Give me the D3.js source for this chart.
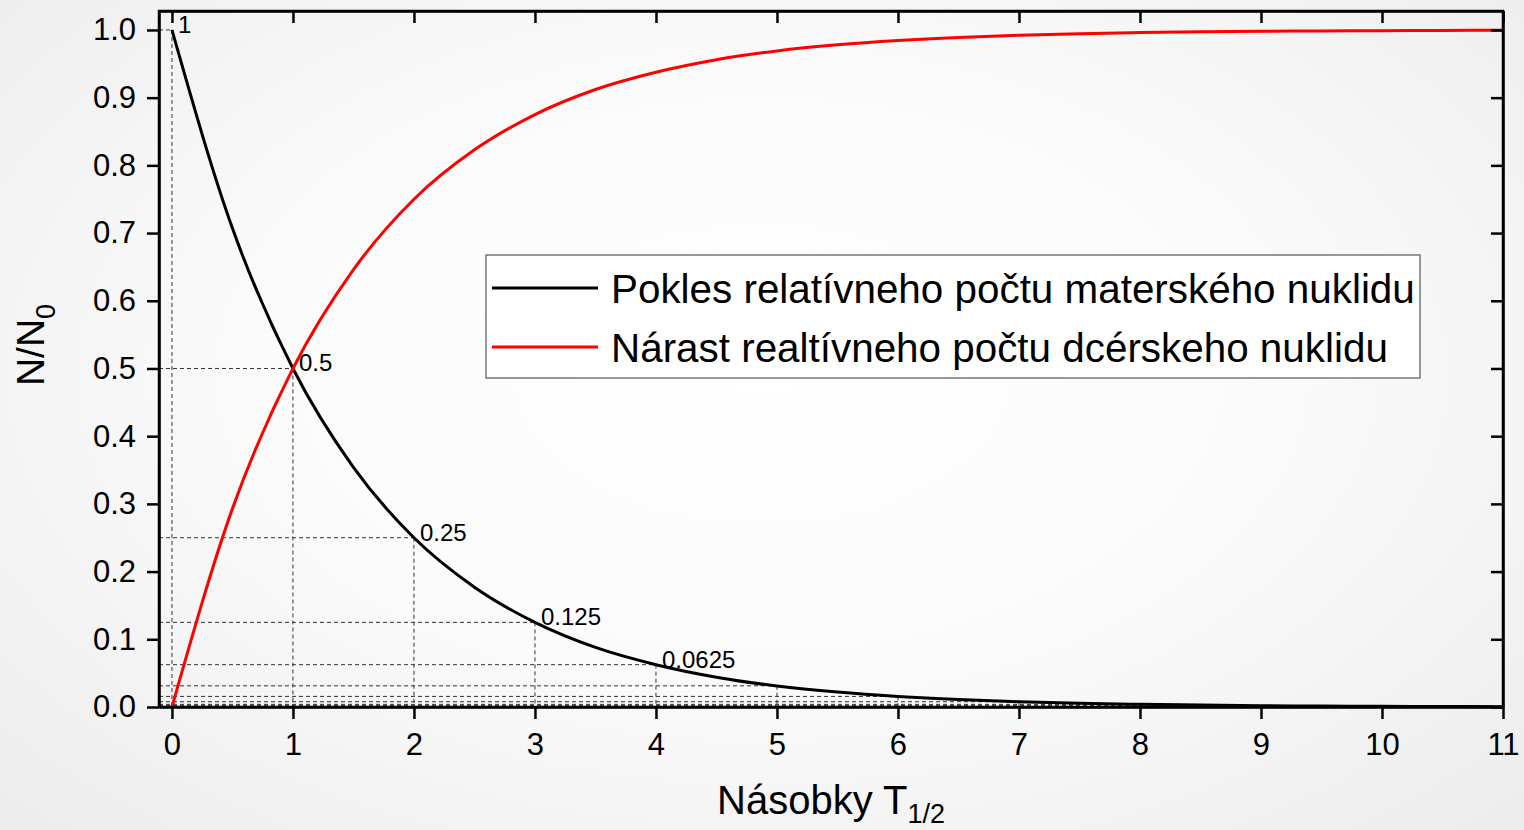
<!DOCTYPE html>
<html><head><meta charset="utf-8">
<script src="https://cdn.jsdelivr.net/npm/d3@7"></script>
<style>
html,body{margin:0;padding:0;}
body{width:1524px;height:830px;overflow:hidden;background:radial-gradient(ellipse at 50% 45%, #ffffff 0%, #fbfbfb 45%, #ececec 100%);}
svg{display:block;font-family:"Liberation Sans",Arial,sans-serif;}
</style></head><body>
<svg id="c" width="1524" height="830"></svg>
<script>
// ---- data ----
const xs = [0,0.5,1,1.5,2,2.5,3,3.5,4,4.5,5,5.5,6,6.5,7,7.5,8,8.5,9,9.5,10,10.5,11];
const decay = [1,0.707,0.5,0.354,0.25,0.177,0.125,0.088,0.0625,0.044,0.031,0.022,0.0156,0.011,0.0078,0.0055,0.0039,0.0028,0.002,0.0014,0.001,0.0007,0.0005];
const growth = [0,0.293,0.5,0.646,0.75,0.823,0.875,0.912,0.9375,0.956,0.969,0.978,0.9844,0.989,0.9922,0.9945,0.9961,0.9972,0.998,0.9986,0.999,0.9993,0.9995];
const markX = [0,1,2,3,4,5,6,7,8,9,10,11];
const markY = [1,0.5,0.25,0.125,0.0625,0.03125,0.015625,0.0078,0.0039,0.002,0.001,0.0005];
const markLabels = ["1","0.5","0.25","0.125","0.0625"];
const xTicks = [0,1,2,3,4,5,6,7,8,9,10,11];
const yTicks = [0,0.1,0.2,0.3,0.4,0.5,0.6,0.7,0.8,0.9,1.0];
const seriesNames = ["Pokles relatívneho počtu materského nuklidu","Nárast realtívneho počtu dcérskeho nuklidu"];
const seriesColors = ["#000000","#ff0000"];

const svg = d3.select("#c");
const L=159, R=1503, T=11, B=707;
const x = d3.scaleLinear().domain([-0.107,11]).range([L,R]);
const y = d3.scaleLinear().domain([0,1.028]).range([B,T]);

// dashed guide lines
const guides = svg.append("g").attr("stroke","#333").attr("stroke-width",1).attr("stroke-dasharray","4,3").attr("fill","none");
markX.forEach((mx,i)=>{
  guides.append("line").attr("x1",L).attr("x2",x(mx)).attr("y1",y(markY[i])).attr("y2",y(markY[i]));
  guides.append("line").attr("x1",x(mx)).attr("x2",x(mx)).attr("y1",y(markY[i])).attr("y2",B);
});

const line = (vals)=>d3.line().x((d,i)=>x(xs[i])).y(d=>y(d)).curve(d3.curveMonotoneX)(vals);
svg.append("path").attr("d",line(decay)).attr("fill","none").attr("stroke",seriesColors[0]).attr("stroke-width",3);
svg.append("path").attr("d",line(growth)).attr("fill","none").attr("stroke",seriesColors[1]).attr("stroke-width",3);

// point labels
markLabels.forEach((t,i)=>{
  svg.append("text").attr("x",x(markX[i])+6).attr("y",y(markY[i])+3)
    .attr("font-size",24).attr("fill","#000").text(t);
});

// axes
const fmt = d3.format(".1f");
const ax = svg.append("g").attr("transform",`translate(0,${B})`).call(d3.axisBottom(x).tickValues(xTicks).tickSize(12).tickSizeOuter(0).tickPadding(14));
const axT = svg.append("g").attr("transform",`translate(0,${T})`).call(d3.axisTop(x).tickValues(xTicks).tickSize(-12).tickSizeOuter(0).tickFormat(""));
const ay = svg.append("g").attr("transform",`translate(${L},0)`).call(d3.axisLeft(y).tickValues(yTicks).tickSize(12).tickSizeOuter(0).tickPadding(11).tickFormat(fmt));
const ayR = svg.append("g").attr("transform",`translate(${R},0)`).call(d3.axisRight(y).tickValues(yTicks).tickSize(-12).tickSizeOuter(0).tickFormat(""));
[ax,axT,ay,ayR].forEach(g=>{
  g.attr("font-size",31).attr("font-family","Liberation Sans, Arial, sans-serif");
  g.selectAll("path.domain").attr("stroke","#000").attr("stroke-width",2.5);
  g.selectAll(".tick line").attr("stroke","#000").attr("stroke-width",2.5);
  g.selectAll(".tick text").attr("font-size",31).attr("fill","#000");
});
svg.append("rect").attr("x",L).attr("y",T).attr("width",R-L).attr("height",B-T).attr("fill","none").attr("stroke","#000").attr("stroke-width",2.5);

// axis titles
const xt = svg.append("text").attr("x",831).attr("y",814).attr("text-anchor","middle").attr("font-size",40).attr("fill","#000");
xt.append("tspan").text("Násobky T");
xt.append("tspan").attr("font-size",27).attr("dy",9).text("1/2");
const yt = svg.append("text").attr("transform","translate(44,345) rotate(-90)").attr("text-anchor","middle").attr("font-size",39).attr("fill","#000");
yt.append("tspan").text("N/N");
yt.append("tspan").attr("font-size",27).attr("dy",11).text("0");

// legend
const lg = svg.append("g");
lg.append("rect").attr("x",486).attr("y",255).attr("width",934).attr("height",123).attr("fill","#fff").attr("stroke","#555").attr("stroke-width",1.2);
seriesNames.forEach((n,i)=>{
  const yy = 288 + i*59;
  lg.append("line").attr("x1",492).attr("x2",598).attr("y1",yy).attr("y2",yy).attr("stroke",seriesColors[i]).attr("stroke-width",3);
  lg.append("text").attr("x",611).attr("y",yy+15).attr("font-size",40.4).attr("fill","#000").text(n);
});
</script></body></html>
